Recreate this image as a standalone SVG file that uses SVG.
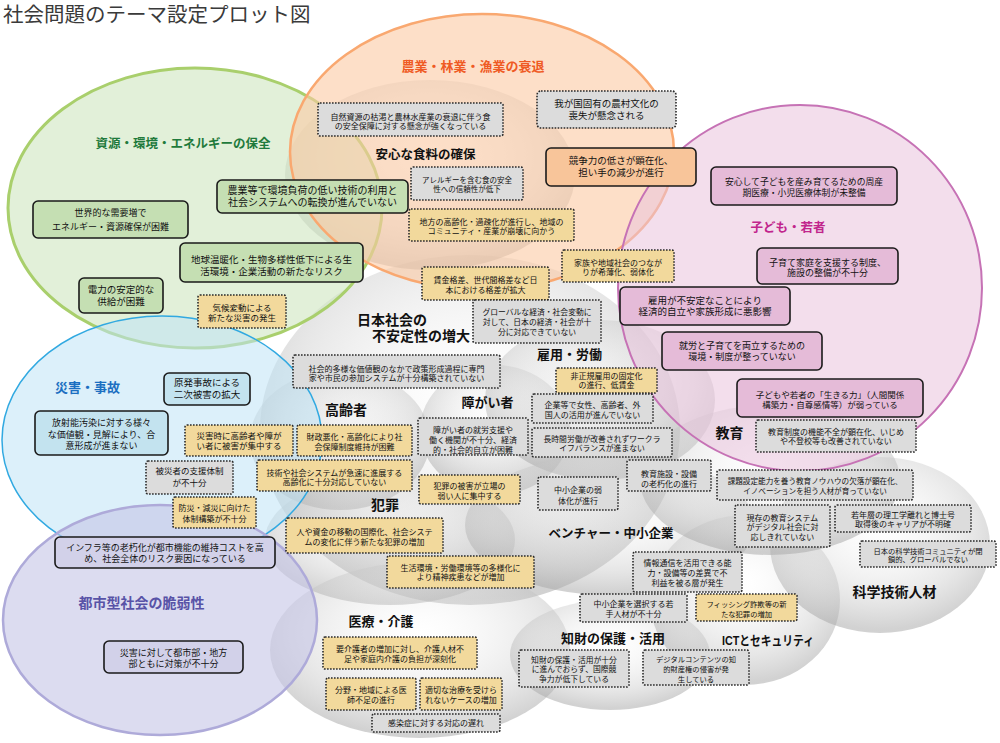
<svg xmlns="http://www.w3.org/2000/svg" width="1000" height="743" viewBox="0 0 1000 743">
<defs>
<radialGradient id="sph" cx="0.5" cy="0.4" r="0.58">
<stop offset="0" stop-color="#ffffff" stop-opacity="0.15"/>
<stop offset="0.72" stop-color="#c6c6c6" stop-opacity="0.42"/>
<stop offset="1" stop-color="#a8a8a8" stop-opacity="0.52"/>
</radialGradient>
<style>
.t{font-family:"Liberation Sans","Noto Sans CJK JP",sans-serif;fill:#111;text-anchor:middle}
.lb{font-family:"Liberation Sans","Noto Sans CJK JP",sans-serif;font-weight:bold;text-anchor:middle;fill:#111}
.sb{stroke:#1a1a1a;stroke-width:1.6}
.db{stroke:#2a2a2a;stroke-width:1.6;stroke-dasharray:1.6 1.4}
.fg{fill:#c5dfb3}.fo{fill:#f8c59a}.fp{fill:#e5bbd8}.fb{fill:#c3e3ef}.fv{fill:#d2d1e9}.fy{fill:#f2d99c}.fa{fill:#dcdcdc}
.sp{fill:url(#sph)}
</style>
</defs>
<rect width="1000" height="743" fill="#ffffff"/>
<text x="3" y="22" font-family="'Liberation Sans','Noto Sans CJK JP',sans-serif" font-size="20.5" fill="#3a3a3a">社会問題のテーマ設定プロット図</text>

<g id="spheres">
<ellipse class="sp" cx="470" cy="430" rx="210" ry="175"/>
<ellipse class="sp" cx="430" cy="175" rx="145" ry="95"/>
<ellipse class="sp" cx="340" cy="440" rx="90" ry="70"/>
<ellipse class="sp" cx="495" cy="430" rx="75" ry="65"/>
<ellipse class="sp" cx="600" cy="400" rx="115" ry="80"/>
<ellipse class="sp" cx="390" cy="540" rx="125" ry="65"/>
<ellipse class="sp" cx="610" cy="525" rx="145" ry="70"/>
<ellipse class="sp" cx="420" cy="650" rx="150" ry="88"/>
<ellipse class="sp" cx="610" cy="655" rx="100" ry="55"/>
<ellipse class="sp" cx="745" cy="600" rx="95" ry="85"/>
<ellipse class="sp" cx="880" cy="545" rx="110" ry="88"/>
<ellipse class="sp" cx="770" cy="480" rx="130" ry="75"/>
</g>

<g id="regions">
<ellipse cx="195" cy="208" rx="187" ry="140" fill="#cfe6c0" fill-opacity="0.6" stroke="#a9cf6c" stroke-width="3"/>
<ellipse cx="482" cy="152" rx="192" ry="138" fill="#fcc9a4" fill-opacity="0.6" stroke="#f9a870" stroke-width="2.5"/>
<ellipse cx="800" cy="288" rx="182" ry="183" fill="#e9c3dc" fill-opacity="0.55" stroke="#c672b5" stroke-width="2"/>
<ellipse cx="162" cy="440" rx="160" ry="124" fill="#bfe3f5" fill-opacity="0.55" stroke="#31a9e1" stroke-width="1.5"/>
<ellipse cx="160" cy="620" rx="157" ry="115" fill="#c5c4e6" fill-opacity="0.6" stroke="#aeaad9" stroke-width="2.5"/>
</g>

<g id="labels">
<text class="lb" x="183" y="148.4" font-size="12.5" style="fill:#1f7a3c">資源・環境・エネルギーの保全</text>
<text class="lb" x="473" y="70.5" font-size="13" style="fill:#ef5a24">農業・林業・漁業の衰退</text>
<text class="lb" x="425.5" y="159.4" font-size="12.5">安心な食料の確保</text>
<text class="lb" x="788" y="232.4" font-size="12.5" style="fill:#c1258c">子ども・若者</text>
<text class="lb" x="87.5" y="391.5" font-size="13" style="fill:#1b6fc1">災害・事故</text>
<text class="lb" x="141.5" y="608" font-size="14" style="fill:#5853a7">都市型社会の脆弱性</text>
<text class="lb" x="357" y="325" font-size="14" style="text-anchor:start">日本社会の</text>
<text class="lb" x="372" y="341" font-size="14" style="text-anchor:start">不安定性の増大</text>
<text class="lb" x="346" y="415" font-size="14">高齢者</text>
<text class="lb" x="487.5" y="406.6" font-size="13">障がい者</text>
<text class="lb" x="569.5" y="358.6" font-size="13">雇用・労働</text>
<text class="lb" x="729.5" y="438" font-size="14">教育</text>
<text class="lb" x="385" y="510" font-size="14">犯罪</text>
<text class="lb" x="611" y="538.4" font-size="12.5">ベンチャー・中小企業</text>
<text class="lb" x="381" y="625.6" font-size="13">医療・介護</text>
<text class="lb" x="613" y="642.6" font-size="13">知財の保護・活用</text>
<text class="lb" x="768" y="644.6" font-size="13" textLength="92" lengthAdjust="spacingAndGlyphs">ICTとセキュリティ</text>
<text class="lb" x="894.5" y="597" font-size="14">科学技術人材</text>
</g>

<g id="G1"><rect class="sb fg" x="33" y="201" width="155" height="37" rx="5"/><text class="t" font-size="9"><tspan x="110.5" y="216.2">世界的な需要増で</tspan><tspan x="110.5" y="230.2">エネルギー・資源確保が困難</tspan></text></g>
<g id="G2"><rect class="sb fg" x="217" y="180" width="191" height="33" rx="5"/><text class="t" font-size="10"><tspan x="312.5" y="194.2">農業等で環境負荷の低い技術の利用と</tspan><tspan x="312.5" y="205.8">社会システムへの転換が進んでいない</tspan></text></g>
<g id="G3"><rect class="sb fg" x="180" y="243" width="183" height="39" rx="5"/><text class="t" font-size="9.5"><tspan x="271.5" y="263">地球温暖化・生物多様性低下による生</tspan><tspan x="271.5" y="274.6">活環境・企業活動の新たなリスク</tspan></text></g>
<g id="G4"><rect class="sb fg" x="79" y="278" width="84" height="35" rx="5"/><text class="t" font-size="9.5"><tspan x="121" y="293">電力の安定的な</tspan><tspan x="121" y="304.6">供給が困難</tspan></text></g>
<g id="G5"><rect class="db fy" x="198" y="295" width="88" height="33" rx="2"/><text class="t" font-size="8.5"><tspan x="242" y="311">気候変動による</tspan><tspan x="242" y="321">新たな災害の発生</tspan></text></g>

<g id="O1"><rect class="db fa" x="318" y="103" width="185" height="33" rx="2"/><text class="t" font-size="8"><tspan x="410.5" y="119.5">自然資源の枯渇と農林水産業の衰退に伴う食</tspan><tspan x="410.5" y="128.5">の安全保障に対する懸念が強くなっている</tspan></text></g>
<g id="O2"><rect class="db fa" x="537" y="91" width="139" height="37" rx="4"/><text class="t" font-size="9.5"><tspan x="606.5" y="107.3">我が国固有の農村文化の</tspan><tspan x="606.5" y="119.3">喪失が懸念される</tspan></text></g>
<g id="O3"><rect class="sb fo" x="546" y="148" width="150" height="38" rx="5"/><text class="t" font-size="9.5"><tspan x="621" y="164.3">競争力の低さが顕在化、</tspan><tspan x="621" y="176.3">担い手の減少が進行</tspan></text></g>
<g id="O4"><rect class="db fa" x="411" y="167" width="112" height="33" rx="2"/><text class="t" font-size="7.5"><tspan x="467" y="182.6">アレルギーを含む食の安全</tspan><tspan x="467" y="191.6">性への信頼性が低下</tspan></text></g>
<g id="O5"><rect class="db fy" x="409" y="209" width="165" height="32" rx="2"/><text class="t" font-size="8"><tspan x="491.5" y="224.8">地方の高齢化・過疎化が進行し、地域の</tspan><tspan x="491.5" y="233.8">コミュニティ・産業が崩壊に向かう</tspan></text></g>

<g id="P1"><rect class="sb fp" x="711" y="167" width="186" height="38" rx="5"/><text class="t" font-size="8.8"><tspan x="804" y="185">安心して子どもを産み育てるための周産</tspan><tspan x="804" y="196">期医療・小児医療体制が未整備</tspan></text></g>
<g id="P2"><rect class="sb fp" x="757" y="248" width="141" height="36" rx="5"/><text class="t" font-size="9"><tspan x="827.5" y="266.2">子育て家庭を支援する制度、</tspan><tspan x="827.5" y="276.2">施設の整備が不十分</tspan></text></g>
<g id="P3"><rect class="sb fp" x="620" y="287" width="170" height="38" rx="5"/><text class="t" font-size="9.5"><tspan x="705" y="304.3">雇用が不安定なことにより</tspan><tspan x="705" y="315.3">経済的自立や家族形成に悪影響</tspan></text></g>
<g id="P4"><rect class="sb fp" x="662" y="332" width="160" height="38" rx="5"/><text class="t" font-size="9"><tspan x="742" y="349.2">就労と子育てを両立するための</tspan><tspan x="742" y="360.2">環境・制度が整っていない</tspan></text></g>
<g id="P5"><rect class="sb fp" x="737" y="379" width="186" height="38" rx="5"/><text class="t" font-size="8.5"><tspan x="830" y="398">子どもや若者の「生きる力」（人間関係</tspan><tspan x="830" y="408">構築力・自尊感情等）が弱っている</tspan></text></g>
<g id="P6"><rect class="db fa" x="756" y="420" width="160" height="32" rx="2"/><text class="t" font-size="8"><tspan x="836" y="434.8">教育制度の機能不全が顕在化、いじめ</tspan><tspan x="836" y="443.8">や不登校等も改善されていない</tspan></text></g>

<g id="B1"><rect class="sb fb" x="164" y="373" width="86" height="32" rx="5"/><text class="t" font-size="9.5"><tspan x="207" y="386.3">原発事故による</tspan><tspan x="207" y="398">二次被害の拡大</tspan></text></g>
<g id="B2"><rect class="sb fb" x="35" y="411" width="133" height="44" rx="5"/><text class="t" font-size="9"><tspan x="101.5" y="426.2">放射能汚染に対する様々</tspan><tspan x="101.5" y="437.9">な価値観・見解により、合</tspan><tspan x="101.5" y="448.9">意形成が進まない</tspan></text></g>
<g id="B3"><rect class="db fy" x="185" y="425" width="108" height="31" rx="2"/><text class="t" font-size="8.5"><tspan x="239" y="439">災害時に高齢者や障が</tspan><tspan x="239" y="449">い者に被害が集中する</tspan></text></g>
<g id="B4"><rect class="db fa" x="146" y="461" width="87" height="33" rx="2"/><text class="t" font-size="8.5"><tspan x="189.5" y="474">被災者の支援体制</tspan><tspan x="189.5" y="486">が不十分</tspan></text></g>
<g id="B5"><rect class="db fy" x="173" y="497" width="83" height="31" rx="2"/><text class="t" font-size="8"><tspan x="214.5" y="510.8">防災・減災に向けた</tspan><tspan x="214.5" y="521.8">体制構築が不十分</tspan></text></g>

<g id="V1"><rect class="sb fv" x="55" y="537" width="220" height="31" rx="5"/><text class="t" font-size="9"><tspan x="165" y="551">インフラ等の老朽化が都市機能の維持コストを高</tspan><tspan x="165" y="561.5">め、社会全体のリスク要因になっている</tspan></text></g>
<g id="V2"><rect class="sb fv" x="104" y="641" width="139" height="32" rx="5"/><text class="t" font-size="9"><tspan x="173.5" y="656">災害に対して都市部・地方</tspan><tspan x="173.5" y="666.5">部ともに対策が不十分</tspan></text></g>

<g id="C1"><rect class="db fy" x="422" y="267" width="127" height="33" rx="2"/><text class="t" font-size="8"><tspan x="485.5" y="282.8">賃金格差、世代間格差など日</tspan><tspan x="485.5" y="292.8">本における格差が拡大</tspan></text></g>
<g id="C2"><rect class="db fy" x="562" y="250" width="112" height="32" rx="2"/><text class="t" font-size="8"><tspan x="618" y="265.8">家族や地域社会のつなが</tspan><tspan x="618" y="274.8">りが希薄化、弱体化</tspan></text></g>
<g id="C3"><rect class="db fa" x="473" y="300" width="128" height="43" rx="2"/><text class="t" font-size="7.8"><tspan x="537" y="314.7">グローバルな経済・社会変動に</tspan><tspan x="537" y="324.7">対して、日本の経済・社会が十</tspan><tspan x="537" y="334.7">分に対応できていない</tspan></text></g>
<g id="C4"><rect class="db fa" x="293" y="355" width="207" height="33" rx="2"/><text class="t" font-size="8"><tspan x="396.5" y="371.8">社会的多様な価値観のなかで政策形成過程に専門</tspan><tspan x="396.5" y="380.8">家や市民の参加システムが十分構築されていない</tspan></text></g>
<g id="C5"><rect class="db fy" x="556" y="368" width="101" height="25" rx="2"/><text class="t" font-size="8"><tspan x="606.5" y="378.8">非正規雇用の固定化</tspan><tspan x="606.5" y="387.8">の進行、低賃金</tspan></text></g>
<g id="C6"><rect class="db fa" x="532" y="394" width="121" height="29" rx="2"/><text class="t" font-size="8"><tspan x="592.5" y="407.8">企業等で女性、高齢者、外</tspan><tspan x="592.5" y="417.8">国人の活用が進んでいない</tspan></text></g>
<g id="C7"><rect class="db fa" x="418" y="418" width="110" height="37" rx="2"/><text class="t" font-size="8"><tspan x="473" y="432.8">障がい者の就労支援や</tspan><tspan x="473" y="442.8">働く機関が不十分、経済</tspan><tspan x="473" y="452.8">的・社会的自立が困難</tspan></text></g>
<g id="C8"><rect class="db fa" x="532" y="428" width="140" height="29" rx="2"/><text class="t" font-size="7.8"><tspan x="602" y="441.7">長時間労働が改善されずワークラ</tspan><tspan x="602" y="450.7">イフバランスが進まない</tspan></text></g>
<g id="C9"><rect class="db fy" x="297" y="425" width="115" height="31" rx="2"/><text class="t" font-size="8"><tspan x="354.5" y="439.8">財政悪化・高齢化により社</tspan><tspan x="354.5" y="449.8">会保障制度維持が困難</tspan></text></g>
<g id="C10"><rect class="db fy" x="257" y="460" width="155" height="31" rx="2"/><text class="t" font-size="8"><tspan x="334.5" y="475.8">技術や社会システムが急速に進展する</tspan><tspan x="334.5" y="485">高齢化に十分対応していない</tspan></text></g>
<g id="C11"><rect class="db fy" x="419" y="475" width="101" height="29" rx="2"/><text class="t" font-size="8"><tspan x="469.5" y="488.8">犯罪の被害が立場の</tspan><tspan x="469.5" y="498.8">弱い人に集中する</tspan></text></g>
<g id="C12"><rect class="db fa" x="538" y="477" width="80" height="33" rx="2"/><text class="t" font-size="8"><tspan x="578" y="492.8">中小企業の弱</tspan><tspan x="578" y="503.8">体化が進行</tspan></text></g>
<g id="C13"><rect class="db fa" x="627" y="460" width="84" height="31" rx="2"/><text class="t" font-size="8"><tspan x="669" y="476.8">教育施設・設備</tspan><tspan x="669" y="486.8">の老朽化の進行</tspan></text></g>
<g id="C14"><rect class="db fa" x="717" y="470" width="196" height="30" rx="2"/><text class="t" font-size="7.6"><tspan x="815" y="483.7">課題設定能力を養う教育ノウハウの欠落が顕在化、</tspan><tspan x="815" y="493.7">イノベーションを担う人材が育っていない</tspan></text></g>
<g id="C15"><rect class="db fy" x="286" y="518" width="157" height="35" rx="2"/><text class="t" font-size="8"><tspan x="364.5" y="534.8">人や資金の移動の国際化、社会システ</tspan><tspan x="364.5" y="544.8">ムの変化に伴う新たな犯罪の増加</tspan></text></g>
<g id="C16"><rect class="db fa" x="735" y="505" width="95" height="42" rx="2"/><text class="t" font-size="8"><tspan x="782.5" y="520.8">現存の教育システム</tspan><tspan x="782.5" y="530.3">がデジタル社会に対</tspan><tspan x="782.5" y="540.3">応しきれていない</tspan></text></g>
<g id="C17"><rect class="db fa" x="835" y="505" width="136" height="27" rx="2"/><text class="t" font-size="8"><tspan x="903" y="517.8">若年層の理工学離れと博士号</tspan><tspan x="903" y="526.8">取得後のキャリアが不明確</tspan></text></g>
<g id="C18"><rect class="db fa" x="860" y="541" width="136" height="26" rx="2"/><text class="t" font-size="7.3"><tspan x="928" y="553.5">日本の科学技術コミュニティが閉</tspan><tspan x="928" y="562">鎖的、グローバルでない</tspan></text></g>
<g id="C19"><rect class="db fy" x="387" y="556" width="147" height="32" rx="2"/><text class="t" font-size="8"><tspan x="460.5" y="570.8">生活環境・労働環境等の多様化に</tspan><tspan x="460.5" y="579.8">より精神疾患などが増加</tspan></text></g>
<g id="C20"><rect class="db fa" x="633" y="552" width="109" height="40" rx="2"/><text class="t" font-size="8"><tspan x="687.5" y="565.8">情報通信を活用できる能</tspan><tspan x="687.5" y="575.8">力・設備等の差異で不</tspan><tspan x="687.5" y="585.8">利益を被る層が発生</tspan></text></g>
<g id="C21"><rect class="db fa" x="580" y="594" width="107" height="28" rx="2"/><text class="t" font-size="8"><tspan x="633.5" y="606.8">中小企業を選択する若</tspan><tspan x="633.5" y="616.8">手人材が不十分</tspan></text></g>
<g id="C22"><rect class="db fy" x="696" y="594" width="101" height="27" rx="2"/><text class="t" font-size="7.3"><tspan x="746.5" y="606.5">フィッシング詐欺等の新</tspan><tspan x="746.5" y="616.5">たな犯罪の増加</tspan></text></g>
<g id="C23"><rect class="db fy" x="323" y="637" width="154" height="32" rx="2"/><text class="t" font-size="8"><tspan x="400" y="651.8">要介護者の増加に対し、介護人材不</tspan><tspan x="400" y="661.8">足や家庭内介護の負担が深刻化</tspan></text></g>
<g id="C24"><rect class="db fa" x="519" y="650" width="110" height="37" rx="2"/><text class="t" font-size="7.8"><tspan x="574" y="662.7">知財の保護・活用が十分</tspan><tspan x="574" y="672.2">に進んでおらず、国際競</tspan><tspan x="574" y="681.7">争力が低下している</tspan></text></g>
<g id="C25"><rect class="db fa" x="643" y="650" width="106" height="35" rx="2"/><text class="t" font-size="7.3"><tspan x="696" y="661.6">デジタルコンテンツの知</tspan><tspan x="696" y="671.6">的財産権の侵害が発</tspan><tspan x="696" y="681.6">生している</tspan></text></g>
<g id="C26"><rect class="db fy" x="326" y="678" width="90" height="32" rx="2"/><text class="t" font-size="8"><tspan x="371" y="692.8">分野・地域による医</tspan><tspan x="371" y="702.8">師不足の進行</tspan></text></g>
<g id="C27"><rect class="db fy" x="420" y="678" width="82" height="32" rx="2"/><text class="t" font-size="8"><tspan x="461" y="692.8">適切な治療を受けら</tspan><tspan x="461" y="702.8">れないケースの増加</tspan></text></g>
<g id="C28"><rect class="db fa" x="372" y="714" width="128" height="18" rx="2"/><text class="t" font-size="8"><tspan x="436" y="725.8">感染症に対する対応の遅れ</tspan></text></g>
</svg>
